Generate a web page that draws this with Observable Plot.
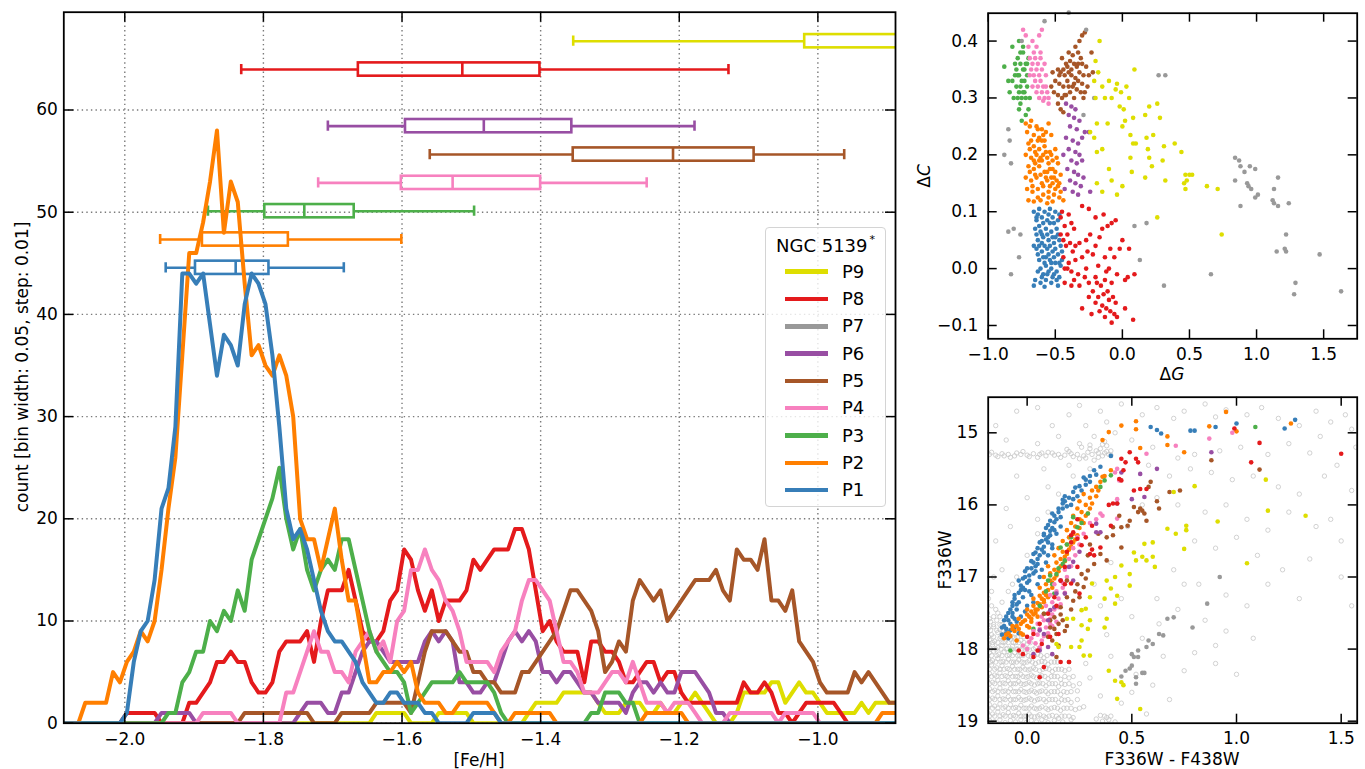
<!DOCTYPE html>
<html>
<head>
<meta charset="utf-8">
<script src="https://cdn.jsdelivr.net/npm/d3@7"></script>
<script src="https://cdn.jsdelivr.net/npm/@observablehq/plot@0.6"></script>
<style>
  body { margin: 0; background: #fff; }
  #fig { position: relative; width: 1365px; height: 769px; overflow: hidden; background: #fff;
         font-family: "DejaVu Sans", sans-serif; color: #000; }
  #fig svg { position: absolute; }
  .lbl { position: absolute; white-space: nowrap; font-size: 17px; line-height: 1; }
  #legend { position: absolute; left: 765px; top: 227px; width: 121px; height: 280px;
            box-sizing: border-box; border: 1.3px solid #d4d4d4; border-radius: 4px;
            background: rgba(255,255,255,0.8); font-size: 18px; }
  #legend .title { position: absolute; left: 0; width: 100%; top: 5px; text-align: center; white-space: nowrap; }
  #legend .title sup { font-size: 11px; vertical-align: 9px; margin-left: 2px; }
  #legend .swatch { position: absolute; left: 19px; width: 43px; height: 4.5px; }
  #legend .name { position: absolute; left: 76px; line-height: 1; }
</style>
</head>
<body>
<div id="fig"></div>
<script>
// ---------- populations ----------
const pops = ["P1", "P2", "P3", "P4", "P5", "P6", "P7", "P8", "P9"];
const popColors = ["#377eb8", "#ff7f00", "#4daf4a", "#f781bf", "#a65628", "#984ea3", "#999999", "#e41a1c", "#dede00"];

// ---------- [Fe/H] running histograms (bin width 0.05, step 0.01) ----------
const fehStart = -2.087;
const fehStep = 0.01;
const countsP1 = [
  0,0,0,0,0,0,0,0,0,1,
  6,9,10,14,21,23,29,44,44,43,
  44,39,34,38,37,35,41,44,43,41,
  36,29,21,18,19,17,14,11,9,8,
  8,7,6,4,3,2,2,3,3,2,
  2,2,1,1,0,0,0,0,0,1,
  1,1,1,0,0,0,0,0,0,0,
  0,0,0,0,0,0,0,0,0,0,
  0,0,0,0,0,0,0,0,0,0,
  0,0,0,0,0,0,0,0,0,0,
  0,0,0,0,0,0,0,0,0,0,
  0,0,0,0,0,0,0,0,0,0,
  0];
const countsP2 = [
  0,0,0,2,2,2,2,5,4,6,
  7,9,8,10,15,21,26,36,46,46,
  49,53,58,48,53,51,43,36,37,35,
  34,36,34,30,20,18,18,15,18,21,
  16,12,12,8,4,4,5,5,6,5,
  6,3,2,2,2,1,1,2,2,2,
  2,2,1,0,0,1,1,1,1,1,
  1,0,0,0,0,0,0,0,0,0,
  0,0,0,0,1,1,1,1,1,1,
  0,0,0,0,0,0,0,0,0,0,
  0,0,0,0,0,0,0,0,0,0,
  0,0,0,0,0,0,0,0,1,1,
  1];
const countsP3 = [
  0,0,0,0,0,0,0,0,0,0,
  0,0,0,0,0,1,1,4,5,7,
  7,10,9,11,10,13,11,16,18,20,
  22,25,20,17,19,15,13,15,16,15,
  18,18,15,12,9,7,6,5,5,4,
  1,2,3,4,4,4,4,5,4,4,
  4,4,3,1,0,0,0,0,0,0,
  0,0,0,0,0,0,1,1,3,3,
  3,2,2,0,0,0,0,0,0,0,
  0,0,0,0,0,0,0,0,0,0,
  0,0,0,0,0,0,0,0,0,0,
  0,0,0,0,0,0,0,0,0,0,
  0];
const countsP4 = [
  0,0,0,0,0,0,0,0,0,0,
  0,0,0,0,0,0,0,0,0,0,
  1,1,1,1,1,0,0,0,0,0,
  0,0,3,3,5,7,9,7,7,5,
  5,4,7,8,9,7,8,6,10,11,
  15,15,17,15,14,12,11,9,6,6,
  6,6,5,7,8,9,12,14,14,13,
  12,9,6,6,5,3,3,3,4,5,
  5,4,6,4,2,2,2,1,2,2,
  2,1,0,0,0,0,1,1,1,1,
  1,1,1,0,1,1,1,1,1,0,
  0,0,0,0,0,0,0,0,0,0,
  0];
const countsP5 = [
  0,0,0,0,0,0,0,0,0,0,
  0,0,0,0,0,0,0,0,0,0,
  0,0,0,0,0,0,1,1,1,1,
  1,1,1,1,1,1,0,0,0,0,
  1,1,1,1,1,2,2,2,2,2,
  1,4,7,9,9,9,8,7,7,5,
  5,4,4,3,3,3,5,5,6,7,
  8,9,11,13,13,12,11,9,5,6,
  8,7,12,14,13,12,13,10,11,12,
  13,14,14,14,15,13,12,17,16,16,
  15,18,12,12,11,13,8,7,6,4,
  3,3,3,3,5,4,5,4,3,2,
  2];
const countsP6 = [
  0,0,0,0,0,0,0,0,0,0,
  0,0,0,0,1,1,1,1,1,0,
  0,0,0,0,0,0,0,0,0,0,
  0,0,0,0,1,2,2,2,1,1,
  3,3,5,7,8,8,7,6,6,6,
  6,6,8,9,8,9,8,4,4,3,
  3,4,4,6,8,9,8,9,8,5,
  5,4,5,5,4,3,3,2,2,2,
  2,1,3,4,4,3,4,3,3,5,
  5,5,4,3,1,1,0,0,0,0,
  0,0,0,0,0,0,0,0,0,0,
  0,0,0,0,0,0,0,0,0,0,
  0];
const countsP8 = [
  0,0,0,0,0,0,0,0,0,1,
  1,1,1,1,0,0,0,0,2,2,
  3,4,6,6,7,6,6,4,3,3,
  4,7,8,8,8,9,6,10,13,13,
  13,15,12,9,8,8,9,12,13,17,
  16,13,11,13,10,12,12,12,13,16,
  15,16,17,17,17,19,19,17,13,9,
  10,8,7,7,7,4,8,8,7,7,
  6,4,4,5,6,6,4,5,5,3,
  2,2,2,2,2,2,2,2,4,3,
  3,4,3,1,1,0,1,2,2,2,
  2,2,1,0,0,0,0,0,0,0,
  0];
const countsP9 = [
  0,0,0,0,0,0,0,0,0,0,
  0,0,0,0,0,0,0,0,0,0,
  0,0,0,0,0,0,0,0,0,0,
  0,0,0,0,0,0,0,0,0,0,
  0,0,0,0,0,1,1,1,1,1,
  0,0,0,0,1,1,1,1,1,0,
  0,0,0,0,0,0,0,1,2,2,
  2,2,3,3,3,3,3,2,1,1,
  1,2,2,2,1,1,2,1,1,2,
  2,3,2,1,0,0,0,1,3,3,
  3,3,4,4,2,3,4,3,3,2,
  1,1,1,1,1,2,1,2,2,2,
  2];
const histCounts = { P1: countsP1, P2: countsP2, P3: countsP3, P4: countsP4, P5: countsP5, P6: countsP6, P8: countsP8, P9: countsP9 };

// ---------- [Fe/H] box plots ----------
const boxPops     = ["P1", "P2", "P3", "P4", "P5", "P6", "P8", "P9"];
const boxLevel    = [44.56, 47.33, 50.10, 52.87, 55.64, 58.42, 63.96, 66.73];
const whiskerLow  = [-1.941, -1.949, -1.880, -1.721, -1.560, -1.707, -1.832, -1.353];
const quartile1   = [-1.898, -1.888, -1.798, -1.601, -1.353, -1.595, -1.663, -1.019];
const medianFeH   = [-1.840, -1.833, -1.741, -1.527, -1.209, -1.482, -1.513, -0.860];
const quartile3   = [-1.792, -1.764, -1.669, -1.400, -1.092, -1.355, -1.401, -0.750];
const whiskerHigh = [-1.684, -1.601, -1.496, -1.247, -0.962, -1.178, -1.129, -0.550];

// ---------- chromosome map (ΔG, ΔC) ----------
const mapP1 = [[-0.66,0.10],[-0.62,0.105],[-0.58,0.10],[-0.54,0.105],[-0.50,0.10],[-0.64,0.085],[-0.60,0.09],[-0.56,0.085],[-0.52,0.09],[-0.48,0.085],
  [-0.65,0.07],[-0.61,0.065],[-0.57,0.07],[-0.53,0.065],[-0.49,0.07],[-0.63,0.05],[-0.59,0.055],[-0.55,0.05],[-0.51,0.045],[-0.47,0.05],
  [-0.64,0.035],[-0.60,0.03],[-0.56,0.035],[-0.52,0.03],[-0.48,0.025],[-0.62,0.015],[-0.58,0.01],[-0.54,0.015],[-0.50,0.01],[-0.46,0.005],
  [-0.63,-0.005],[-0.59,-0.01],[-0.55,-0.005],[-0.51,-0.01],[-0.47,-0.015],[-0.65,-0.02],[-0.61,-0.025],[-0.57,-0.02],[-0.53,-0.025],[-0.49,-0.02],
  [-0.58,-0.032],[-0.66,0.04],[-0.62,0.075],[-0.54,0.08],[-0.50,0.055],[-0.57,0.02],[-0.53,0.0],[-0.60,0.045],[-0.66,-0.03],[-0.45,0.03],
  [-0.63,0.095],[-0.59,0.08],[-0.55,0.095],[-0.51,0.08],[-0.47,0.095],[-0.64,0.06],[-0.60,0.06],[-0.56,0.06],[-0.52,0.055],[-0.48,0.06],
  [-0.62,0.04],[-0.58,0.04],[-0.54,0.04],[-0.50,0.035],[-0.46,0.04],[-0.61,0.0],[-0.57,0.005],[-0.53,0.01],[-0.49,-0.005],[-0.45,0.015],
  [-0.60,-0.015],[-0.56,-0.01],[-0.52,-0.015],[-0.48,-0.03],[-0.63,0.025],[-0.59,0.02],[-0.55,0.025],[-0.51,0.02],[-0.47,0.01],[-0.64,0.09]];
const mapP2 = [[-0.72,0.255],[-0.68,0.26],[-0.64,0.25],[-0.60,0.245],[-0.55,0.255],[-0.71,0.24],[-0.66,0.235],[-0.62,0.23],[-0.58,0.225],[-0.53,0.235],
  [-0.70,0.22],[-0.66,0.215],[-0.62,0.21],[-0.58,0.215],[-0.54,0.205],[-0.50,0.21],[-0.72,0.20],[-0.68,0.195],[-0.64,0.20],[-0.60,0.19],
  [-0.56,0.195],[-0.52,0.19],[-0.48,0.185],[-0.70,0.18],[-0.66,0.175],[-0.62,0.18],[-0.58,0.17],[-0.54,0.175],[-0.50,0.17],[-0.46,0.165],
  [-0.72,0.16],[-0.68,0.155],[-0.64,0.16],[-0.60,0.15],[-0.56,0.155],[-0.52,0.15],[-0.48,0.145],[-0.71,0.14],[-0.67,0.135],[-0.63,0.14],
  [-0.59,0.13],[-0.55,0.135],[-0.51,0.13],[-0.47,0.125],[-0.70,0.12],[-0.66,0.118],[-0.61,0.12],[-0.56,0.115],[-0.52,0.118],[-0.44,0.12],
  [-0.65,0.185],[-0.57,0.24],[-0.69,0.21],[-0.61,0.165],[-0.53,0.16],[-0.63,0.225],[-0.59,0.20],[-0.55,0.185],[-0.67,0.145],[-0.49,0.155],
  [-0.69,0.25],[-0.63,0.245],[-0.59,0.235],[-0.65,0.205],[-0.61,0.195],[-0.57,0.205],[-0.53,0.20],[-0.49,0.195],[-0.69,0.17],[-0.65,0.165],
  [-0.57,0.16],[-0.51,0.16],[-0.47,0.15],[-0.63,0.125],[-0.59,0.145],[-0.55,0.125],[-0.50,0.14],[-0.46,0.135],[-0.68,0.225],[-0.60,0.225],
  [-0.56,0.17],[-0.54,0.145],[-0.62,0.19],[-0.66,0.19],[-0.52,0.175]];
const mapP3 = [[-0.88,0.355],[-0.84,0.31],[-0.85,0.33],[-0.82,0.39],[-0.80,0.36],[-0.79,0.35],[-0.78,0.37],[-0.77,0.34],[-0.76,0.36],[-0.75,0.33],
  [-0.74,0.38],[-0.73,0.35],[-0.72,0.36],[-0.71,0.34],[-0.79,0.32],[-0.77,0.31],[-0.75,0.30],[-0.73,0.31],[-0.71,0.32],[-0.78,0.30],
  [-0.76,0.32],[-0.74,0.35],[-0.72,0.30],[-0.80,0.34],[-0.82,0.33],[-0.81,0.30],[-0.77,0.40],[-0.74,0.39],[-0.70,0.37],[-0.72,0.27],
  [-0.70,0.28],[-0.75,0.26],[-0.76,0.29],[-0.73,0.33],[-0.71,0.36],[-0.78,0.34],[-0.76,0.38],[-0.74,0.31],[-0.69,0.30],[-0.77,0.28]];
const mapP4 = [[-0.74,0.42],[-0.72,0.41],[-0.62,0.41],[-0.60,0.42],[-0.67,0.40],[-0.70,0.39],[-0.69,0.37],[-0.67,0.36],[-0.65,0.37],[-0.63,0.36],
  [-0.61,0.38],[-0.68,0.35],[-0.66,0.34],[-0.64,0.35],[-0.62,0.34],[-0.60,0.35],[-0.58,0.36],[-0.65,0.33],[-0.63,0.32],[-0.61,0.33],
  [-0.59,0.32],[-0.57,0.34],[-0.64,0.31],[-0.62,0.30],[-0.60,0.31],[-0.58,0.30],[-0.56,0.31],[-0.55,0.29],[-0.57,0.32],[-0.67,0.32],
  [-0.69,0.34],[-0.59,0.295],[-0.66,0.38],[-0.64,0.39],[-0.55,0.30],[-0.61,0.37]];
const mapP5 = [[-0.30,0.41],[-0.28,0.415],[-0.32,0.40],[-0.35,0.39],[-0.40,0.38],[-0.37,0.375],[-0.33,0.38],[-0.31,0.37],[-0.45,0.37],[-0.42,0.36],
  [-0.39,0.365],[-0.36,0.36],[-0.34,0.355],[-0.30,0.36],[-0.27,0.355],[-0.48,0.35],[-0.46,0.345],[-0.43,0.34],[-0.40,0.345],[-0.38,0.34],
  [-0.35,0.335],[-0.33,0.33],[-0.29,0.34],[-0.25,0.34],[-0.22,0.345],[-0.50,0.33],[-0.47,0.325],[-0.44,0.32],[-0.41,0.33],[-0.37,0.32],
  [-0.34,0.315],[-0.31,0.31],[-0.28,0.31],[-0.51,0.31],[-0.48,0.305],[-0.45,0.30],[-0.42,0.305],[-0.29,0.30],[-0.46,0.28],[-0.44,0.275],
  [-0.48,0.29],[-0.53,0.32],[-0.52,0.345],[-0.39,0.31],[-0.36,0.30],[-0.26,0.32],[-0.23,0.38],[-0.41,0.355],[-0.38,0.35],[-0.32,0.345],
  [-0.36,0.325],[-0.43,0.305],[-0.40,0.32],[-0.47,0.34],[-0.44,0.35],[-0.33,0.36],[-0.30,0.325]];
const mapP6 = [[-0.42,0.29],[-0.38,0.285],[-0.35,0.28],[-0.40,0.27],[-0.36,0.265],[-0.32,0.26],[-0.39,0.25],[-0.34,0.245],[-0.28,0.24],[-0.25,0.24],
  [-0.42,0.23],[-0.37,0.225],[-0.33,0.22],[-0.30,0.23],[-0.40,0.21],[-0.35,0.205],[-0.32,0.20],[-0.38,0.19],[-0.34,0.185],[-0.30,0.19],
  [-0.41,0.175],[-0.36,0.17],[-0.33,0.165],[-0.39,0.155],[-0.35,0.15],[-0.31,0.145],[-0.43,0.14],[-0.37,0.135],[-0.33,0.13],[-0.24,0.135],
  [-0.29,0.16],[-0.44,0.20]];
const mapP7 = [[0.84,0.195],[0.87,0.19],[0.88,0.18],[0.91,0.17],[0.84,0.155],[0.93,0.15],[0.95,0.18],[0.99,0.175],[0.94,0.145],[0.96,0.14],
  [0.99,0.125],[1.01,0.13],[0.88,0.11],[1.13,0.14],[1.12,0.12],[1.13,0.115],[1.16,0.11],[1.16,0.16],[1.24,0.115],[1.22,0.06],
  [1.21,0.035],[1.15,0.03],[1.22,0.03],[1.47,0.025],[1.29,-0.025],[1.28,-0.045],[1.63,-0.04],[0.27,0.34],[0.32,0.34],[-0.85,0.245],
  [-0.84,0.225],[-0.88,0.20],[-0.83,0.185],[-0.85,0.065],[-0.81,0.07],[-0.76,0.06],[-0.77,0.02],[-0.83,-0.01],[0.09,0.075],[0.18,0.08],
  [0.13,0.015],[0.66,-0.01],[0.31,-0.03],[-0.58,0.435],[-0.27,0.42],[-0.75,0.40],[-0.21,0.30],[-0.29,0.27],[-0.40,0.45]];
const mapP8 = [[-0.45,0.10],[-0.40,0.095],[-0.38,0.08],[-0.43,0.075],[-0.46,0.06],[-0.41,0.06],[-0.36,0.07],[-0.30,0.11],[-0.25,0.105],[-0.20,0.09],
  [-0.14,0.095],[-0.08,0.08],[-0.05,0.085],[-0.24,0.06],[-0.15,0.07],[-0.11,0.075],[-0.42,0.04],[-0.37,0.03],[-0.32,0.045],[-0.27,0.05],
  [-0.20,0.04],[-0.09,0.035],[0.0,0.05],[0.05,0.035],[-0.44,0.02],[-0.40,0.01],[-0.35,0.015],[-0.30,0.02],[-0.22,0.025],[-0.13,0.02],
  [-0.41,0.0],[-0.38,-0.005],[-0.33,-0.01],[-0.27,0.0],[-0.18,0.005],[-0.12,-0.005],[-0.04,-0.01],[0.04,-0.015],[0.09,-0.01],[-0.43,-0.025],
  [-0.38,-0.03],[-0.32,-0.03],[-0.25,-0.025],[-0.20,-0.015],[-0.16,-0.03],[-0.08,-0.025],[0.02,-0.02],[-0.22,-0.04],[-0.18,-0.05],[-0.14,-0.045],
  [-0.10,-0.055],[-0.20,-0.06],[-0.15,-0.065],[-0.12,-0.07],[-0.09,-0.075],[-0.06,-0.08],[-0.04,-0.085],[-0.08,-0.095],[-0.30,-0.07],[0.02,-0.07],
  [0.08,-0.09],[-0.23,-0.08],[-0.46,0.09],[-0.44,0.05],[-0.39,0.045],[-0.35,0.04],[-0.43,0.0],[-0.36,-0.02],[-0.28,-0.015],[-0.26,0.03],
  [-0.17,0.055],[-0.10,0.0],[-0.06,0.02],[-0.02,0.035],[-0.13,-0.02],[-0.19,-0.025],[-0.11,-0.04],[-0.07,-0.05],[-0.25,-0.05],[-0.17,-0.075],
  [-0.13,-0.085],[-0.05,-0.06]];
const mapP9 = [[-0.17,0.40],[-0.20,0.365],[-0.18,0.345],[-0.21,0.33],[-0.15,0.32],[-0.10,0.33],[-0.04,0.325],[-0.01,0.31],[0.03,0.32],[-0.13,0.30],
  [-0.20,0.30],[-0.08,0.30],[-0.05,0.315],[0.05,0.30],[0.01,0.28],[-0.02,0.285],[0.09,0.35],[-0.19,0.255],[-0.11,0.255],[0.0,0.25],
  [0.02,0.26],[0.08,0.265],[0.17,0.27],[0.20,0.285],[0.26,0.29],[0.28,0.265],[-0.24,0.24],[-0.21,0.23],[0.06,0.235],[0.10,0.22],
  [0.18,0.23],[0.23,0.235],[-0.15,0.21],[-0.19,0.205],[0.08,0.22],[0.19,0.21],[0.31,0.215],[0.39,0.22],[0.44,0.205],[0.06,0.195],
  [0.20,0.195],[0.30,0.19],[-0.10,0.175],[0.07,0.17],[0.22,0.18],[-0.08,0.155],[-0.19,0.15],[0.0,0.145],[0.17,0.16],[0.32,0.155],
  [0.47,0.165],[0.50,0.165],[0.52,0.165],[0.48,0.155],[0.46,0.15],[0.47,0.14],[0.63,0.145],[0.71,0.14],[-0.15,0.135],[-0.04,0.13],
  [0.26,0.09],[0.74,0.06]];
const chromosomeMap = { P1: mapP1, P2: mapP2, P3: mapP3, P4: mapP4, P5: mapP5, P6: mapP6, P7: mapP7, P8: mapP8, P9: mapP9 };

// ---------- colour-magnitude diagram (F336W - F438W, F336W) ----------
// all stars of the field, scattered individually
const cmdField = [
  [-0.175,17.62],[-0.145,17.60],[-0.12,17.66],[-0.185,17.71],[-0.16,17.69],[-0.13,17.73],[-0.10,17.76],
  [-0.19,17.79],[-0.17,17.80],[-0.14,17.77],[-0.115,17.82],[-0.09,17.80],[-0.06,17.84],[-0.035,17.79],
  [-0.18,17.87],[-0.155,17.89],[-0.13,17.85],[-0.105,17.90],[-0.08,17.86],[-0.055,17.91],[-0.03,17.88],[0.00,17.93],
  [-0.19,17.96],[-0.165,17.94],[-0.14,17.98],[-0.12,17.95],[-0.095,17.99],[-0.07,17.96],[-0.045,18.00],[-0.02,17.97],[0.01,18.01],[0.04,17.98],
  [-0.18,18.05],[-0.16,18.03],[-0.135,18.07],[-0.11,18.04],[-0.085,18.08],[-0.06,18.05],[-0.035,18.09],[-0.01,18.06],[0.02,18.10],[0.05,18.07],[0.08,18.12],
  [-0.185,18.14],[-0.165,18.16],[-0.14,18.13],[-0.115,18.17],[-0.09,18.14],[-0.065,18.18],[-0.04,18.15],[-0.015,18.19],[0.01,18.16],[0.04,18.20],[0.07,18.17],[0.10,18.21],[0.13,18.18],
  [-0.19,18.24],[-0.17,18.22],[-0.145,18.26],[-0.12,18.23],[-0.095,18.27],[-0.07,18.24],[-0.045,18.28],[-0.02,18.25],[0.005,18.29],[0.03,18.26],[0.06,18.30],[0.09,18.27],[0.12,18.31],[0.15,18.28],[0.18,18.30],
  [-0.18,18.34],[-0.155,18.36],[-0.13,18.33],[-0.105,18.37],[-0.08,18.34],[-0.055,18.38],[-0.03,18.35],[-0.005,18.39],[0.02,18.36],[0.045,18.40],[0.07,18.37],[0.10,18.41],[0.13,18.38],[0.16,18.42],[0.20,18.40],
  [-0.19,18.44],[-0.165,18.46],[-0.14,18.43],[-0.115,18.47],[-0.09,18.44],[-0.065,18.48],[-0.04,18.45],[-0.015,18.49],[0.01,18.46],[0.035,18.50],[0.06,18.47],[0.09,18.51],[0.12,18.48],[0.15,18.52],[0.18,18.49],[0.22,18.51],
  [-0.18,18.55],[-0.155,18.57],[-0.13,18.54],[-0.105,18.58],[-0.08,18.55],[-0.055,18.59],[-0.03,18.56],[-0.005,18.60],[0.02,18.57],[0.045,18.61],[0.07,18.58],[0.10,18.62],[0.13,18.59],[0.16,18.63],[0.19,18.60],[0.24,18.58],
  [-0.19,18.66],[-0.165,18.68],[-0.14,18.65],[-0.115,18.69],[-0.09,18.66],[-0.065,18.70],[-0.04,18.67],[-0.015,18.71],[0.01,18.68],[0.035,18.72],[0.06,18.69],[0.09,18.73],[0.12,18.70],[0.15,18.74],[0.18,18.71],[0.21,18.74],
  [-0.18,18.77],[-0.155,18.79],[-0.13,18.76],[-0.105,18.80],[-0.08,18.77],[-0.055,18.81],[-0.03,18.78],[-0.005,18.82],[0.02,18.79],[0.045,18.83],[0.07,18.80],[0.10,18.84],[0.13,18.81],[0.16,18.85],[0.19,18.82],[0.23,18.84],[0.27,18.80],
  [-0.19,18.88],[-0.165,18.90],[-0.14,18.87],[-0.115,18.91],[-0.09,18.88],[-0.065,18.92],[-0.04,18.89],[-0.015,18.93],[0.01,18.90],[0.035,18.94],[0.06,18.91],[0.09,18.95],[0.12,18.92],[0.15,18.96],[0.18,18.93],[0.22,18.95],[0.35,18.92],[0.38,18.95],
  [-0.18,18.99],[-0.155,19.01],[-0.13,18.98],[-0.105,19.02],[-0.08,18.99],[-0.055,19.01],[-0.03,18.98],[-0.005,19.02],[0.02,18.99],[0.045,19.01],[0.07,18.98],[0.10,19.02],[0.13,18.99],[0.17,19.01],[0.21,18.98],[0.36,19.0],[0.39,18.98],[0.42,19.01],[0.33,18.97],
  [-0.15,17.45],[-0.12,17.35],[-0.09,17.2],[-0.05,17.0],[0.0,16.7],[0.05,16.4],[0.1,16.1],[0.15,15.85],[-0.13,17.55],[-0.07,17.1],
  [-0.19,17.50],[-0.17,17.40],[-0.185,17.30],[-0.16,17.55],[-0.18,17.58],[-0.14,17.50],
  [-0.18,15.30],[-0.15,15.31],[-0.12,15.29],[-0.09,15.30],[-0.06,15.32],[-0.03,15.30],[0.00,15.31],[0.03,15.29],[0.06,15.30],[0.09,15.32],
  [0.12,15.28],[0.15,15.30],[0.18,15.31],[0.21,15.29],[0.24,15.30],[0.27,15.32],[0.29,15.27],[0.31,15.30],[0.33,15.25],[0.35,15.22],
  [0.37,15.28],[0.38,15.18],[0.40,15.25],[0.39,15.30],[0.34,15.34],[0.22,15.33],[0.10,15.27],[-0.02,15.26],[-0.14,15.33],[0.05,15.34],
  [0.26,15.20],[0.28,15.35],[0.30,15.22],[0.32,15.38],[0.34,15.28],[0.36,15.32],[0.36,15.16],[0.38,15.26],[0.40,15.31],[0.30,15.17],
  [0.25,15.36],[0.20,15.26],[0.16,15.34],[0.13,15.31],[0.07,15.28],[0.01,15.33],[-0.05,15.28],[-0.11,15.32],[-0.17,15.27],[-0.08,15.34],[0.19,15.23],
  [-0.05,14.7],[0.05,14.65],[0.2,14.75],[0.28,14.9],[0.15,15.05],[-0.1,15.1],[0.05,15.15],[-0.15,14.9],[0.35,14.7],[0.45,14.6],
  [0.55,14.75],[0.62,14.65],[0.7,14.8],[0.75,14.7],[0.85,14.6],[0.9,14.78],[0.95,14.68],[1.05,14.75],[1.12,14.65],[1.2,14.8],
  [1.3,14.9],[1.38,14.7],[1.45,14.85],[1.52,14.75],[1.55,14.95],[0.42,15.0],[0.5,15.1],[0.6,15.2],[0.72,15.35],[0.8,15.3],
  [0.92,15.25],[1.02,15.2],[1.15,15.3],[1.25,15.15],[1.35,15.28],[1.48,15.45],[0.58,15.45],[0.68,15.6],[0.78,15.5],[0.88,15.55],
  [0.98,15.65],[1.08,15.6],[1.2,15.75],[1.3,15.85],[1.42,15.6],[1.55,15.8],[0.62,15.9],[0.72,16.0],[0.85,16.1],[0.95,16.0],
  [1.05,16.2],[1.15,16.35],[1.25,16.1],[1.38,16.3],[1.5,16.5],[0.8,16.5],[0.9,16.6],[1.0,16.45],[1.1,16.7],[1.22,16.9],
  [1.35,16.75],[1.5,17.0],[0.7,16.9],[0.82,17.1],[0.95,17.25],[1.05,17.4],[1.15,17.1],[1.3,17.3],[0.62,17.3],[0.72,17.45],
  [0.85,17.6],[0.95,17.75],[1.08,17.85],[0.5,17.55],[0.55,17.85],[0.65,18.1],[0.75,18.3],[0.6,18.5],[0.5,18.6],[0.45,18.75],
  [0.35,18.65],[0.3,18.4],[0.28,18.2],[0.4,18.1],[0.38,17.8],[0.45,17.3],[0.35,17.4],[0.32,17.1],[0.4,16.8],[0.48,16.3],
  [0.55,16.0],[0.3,15.5],[0.22,15.6],[-0.05,15.6],[-0.1,16.05],[-0.15,16.5],[-0.12,16.9],[-0.08,16.3],[0.0,15.9],[0.1,15.75],
  [0.05,16.2],[-0.17,17.2],[-0.16,17.0],[0.08,15.5],[0.2,15.45],[0.25,15.15],[0.32,15.05],[0.37,15.12],[0.8,18.05],[0.9,18.2],
  [1.0,18.35],[0.68,18.7],[0.57,18.9],[0.52,18.35],[0.63,17.65],[0.9,17.95],[0.75,17.1],[1.55,17.4],[1.45,16.2],[1.57,15.2],
  [1.4,15.05],[0.12,14.9],[0.25,14.62],[0.38,14.85]];
// further field stars in the crowded turn-off region, grouped by magnitude
const fieldRows = [
  [17.66, [-0.19, -0.16, -0.13]],
  [17.74, [-0.175, -0.145, -0.115, -0.085]],
  [17.83, [-0.185, -0.16, -0.125, -0.095, -0.07, -0.045, -0.015]],
  [17.91, [-0.19, -0.165, -0.14, -0.115, -0.09, -0.065, -0.04, -0.015, 0.015]],
  [18.00, [-0.175, -0.15, -0.125, -0.10, -0.075, -0.05, -0.025, 0.00, 0.03, 0.06]],
  [18.09, [-0.19, -0.17, -0.145, -0.12, -0.095, -0.07, -0.045, -0.02, 0.005, 0.035, 0.065, 0.095]],
  [18.18, [-0.175, -0.15, -0.125, -0.10, -0.075, -0.05, -0.025, 0.0, 0.025, 0.055, 0.085, 0.115, 0.145]],
  [18.28, [-0.18, -0.155, -0.13, -0.11, -0.085, -0.06, -0.035, -0.01, 0.015, 0.04, 0.075, 0.105, 0.135, 0.165, 0.2]],
  [18.38, [-0.19, -0.17, -0.145, -0.12, -0.095, -0.07, -0.045, -0.02, 0.005, 0.03, 0.06, 0.085, 0.115, 0.145, 0.18, 0.22]],
  [18.48, [-0.18, -0.155, -0.13, -0.105, -0.08, -0.055, -0.03, -0.005, 0.02, 0.05, 0.075, 0.105, 0.135, 0.165, 0.2, 0.25]],
  [18.59, [-0.19, -0.165, -0.14, -0.115, -0.09, -0.065, -0.04, -0.015, 0.01, 0.035, 0.06, 0.09, 0.115, 0.145, 0.175, 0.21]],
  [18.70, [-0.18, -0.155, -0.13, -0.105, -0.08, -0.055, -0.03, -0.005, 0.02, 0.05, 0.08, 0.105, 0.135, 0.165, 0.195, 0.24]],
  [18.82, [-0.19, -0.165, -0.14, -0.115, -0.09, -0.065, -0.04, -0.015, 0.01, 0.035, 0.06, 0.09, 0.115, 0.145, 0.175, 0.21, 0.25]],
  [18.93, [-0.18, -0.155, -0.13, -0.105, -0.08, -0.055, -0.03, -0.005, 0.02, 0.05, 0.08, 0.105, 0.14, 0.165, 0.2, 0.37, 0.40]]
];
const cmdP1 = [[-0.12,17.80],[-0.10,17.72],[-0.08,17.65],[-0.11,17.60],[-0.07,17.55],[-0.09,17.50],[-0.05,17.45],[-0.07,17.40],[-0.04,17.35],[-0.06,17.30],
  [-0.02,17.28],[-0.04,17.22],[-0.01,17.18],[-0.03,17.12],[0.00,17.08],[-0.02,17.02],[0.01,16.98],[0.03,16.95],[-0.01,16.92],[0.02,16.88],
  [0.04,16.85],[0.03,16.80],[0.05,16.75],[0.06,16.70],[0.04,16.66],[0.07,16.62],[0.08,16.58],[0.06,16.52],[0.09,16.48],[0.10,16.45],
  [0.08,16.40],[0.11,16.36],[0.12,16.32],[0.10,16.28],[0.13,16.24],[0.14,16.20],[0.16,16.17],[0.12,16.12],[0.15,16.10],[0.17,16.05],
  [0.19,16.02],[0.21,16.00],[0.18,15.95],[0.22,15.92],[0.24,15.88],[0.26,15.80],[0.23,15.76],[0.28,15.72],[0.30,15.68],[0.27,15.62],
  [0.33,15.58],[0.35,15.47],[0.40,15.32],[-0.06,17.70],[-0.03,17.55],[-0.05,17.62],[0.00,17.40],[0.02,17.25],[-0.09,17.85],[-0.04,17.78],
  [0.05,17.10],[0.07,16.90],[0.10,16.70],[0.12,16.55],[0.14,16.40],[-0.01,17.48],[0.03,17.35],[0.01,17.20],[0.06,17.00],[0.09,16.80],
  [0.12,16.60],[0.16,16.30],[0.59,14.92],[0.62,14.96],[0.64,15.01],[0.78,14.97],[0.80,14.97],[0.90,14.92],[1.00,14.87],[1.23,14.94],
  [1.28,14.82],[0.18,15.88],[0.17,15.93],
  [-0.10,17.78],[-0.08,17.74],[-0.11,17.68],[-0.09,17.60],[-0.06,17.58],[-0.08,17.45],[-0.05,17.38],[-0.06,17.25],[-0.03,17.18],[-0.04,17.05],
  [-0.01,17.00],[0.00,16.88],[0.02,16.78],[0.03,16.68],[0.05,16.60],[0.07,16.50],[0.08,16.42],[0.09,16.32],[0.11,16.22],[0.13,16.15],
  [0.15,16.05],[0.17,15.98],[0.20,15.90],[0.22,15.82],[0.25,15.74],[0.28,15.65],[0.30,15.60],[0.32,15.52],[-0.07,17.35],[-0.02,17.15],
  [0.01,17.05],[0.04,16.92],[0.05,16.82],[0.08,16.66],[0.10,16.52],[0.11,16.42],[0.13,16.35],[-0.12,17.70],[-0.10,17.55],[-0.07,17.50]];
const cmdP2 = [[-0.11,17.85],[-0.09,17.78],[-0.06,17.75],[-0.04,17.72],[-0.07,17.68],[-0.03,17.65],[-0.01,17.60],[-0.04,17.58],[0.00,17.52],[0.02,17.48],
  [0.00,17.45],[0.03,17.40],[0.05,17.36],[0.03,17.30],[0.06,17.26],[0.08,17.22],[0.06,17.15],[0.09,17.10],[0.11,17.05],[0.08,17.00],
  [0.11,16.95],[0.13,16.90],[0.10,16.85],[0.14,16.80],[0.16,16.75],[0.13,16.70],[0.17,16.65],[0.15,16.60],[0.19,16.55],[0.17,16.50],
  [0.20,16.45],[0.22,16.40],[0.19,16.35],[0.23,16.30],[0.21,16.25],[0.25,16.20],[0.22,16.15],[0.26,16.10],[0.24,16.05],[0.28,16.00],
  [0.25,15.95],[0.30,15.90],[0.27,15.85],[0.31,15.80],[0.33,15.75],[0.35,15.68],[0.37,15.60],[0.40,15.52],[0.36,15.61],[-0.02,17.80],
  [0.01,17.70],[0.05,17.55],[0.07,17.42],[0.10,17.28],[0.12,17.15],[0.02,17.62],[0.04,17.50],[0.08,17.35],[0.14,16.98],[0.18,16.72],
  [0.20,16.62],[0.23,16.48],[0.27,16.25],[0.29,16.12],[-0.08,17.82],[-0.05,17.88],[0.36,15.10],[0.39,14.99],[0.45,14.90],[0.52,14.84],
  [0.52,14.95],[0.54,15.21],[0.67,15.05],[0.67,15.17],[0.75,15.27],[0.87,14.91],[0.95,14.71],[1.00,14.98],[1.26,14.87],
  [-0.10,17.80],[-0.07,17.72],[-0.05,17.68],[-0.02,17.62],[0.01,17.55],[0.03,17.52],[0.04,17.45],[0.06,17.38],[0.07,17.30],[0.09,17.25],
  [0.10,17.18],[0.12,17.08],[0.13,17.02],[0.15,16.92],[0.16,16.85],[0.18,16.78],[0.19,16.68],[0.21,16.58],[0.22,16.52],[0.24,16.42],
  [0.25,16.32],[0.26,16.22],[0.28,16.15],[0.30,16.05],[0.31,15.98],[0.33,15.88],[0.34,15.80],[-0.03,17.78],[0.00,17.68],[0.02,17.58],
  [0.05,17.45],[0.08,17.32]];
const cmdP3 = [[-0.08,18.02],[0.03,17.72],[0.08,17.51],[0.13,17.23],[0.10,17.05],[0.14,16.96],[0.18,16.77],[0.16,16.59],[0.21,16.45],[0.24,16.31],
  [0.29,16.12],[0.22,16.17],[0.35,15.75],[0.40,15.59],[0.37,15.66],[1.09,14.92],[0.12,17.10],[0.15,16.88],[0.06,17.40],[0.19,16.55],
  [0.26,16.25],[0.11,16.98],[0.17,16.82],[0.09,17.20]];
const cmdP4 = [[-0.02,17.95],[0.01,17.90],[0.04,17.92],[0.02,17.85],[0.05,17.80],[0.08,17.82],[0.03,17.75],[0.06,17.72],[0.09,17.70],[0.05,17.65],
  [0.08,17.60],[0.11,17.58],[0.07,17.55],[0.10,17.50],[0.13,17.45],[0.09,17.40],[0.12,17.35],[0.15,17.30],[0.11,17.25],[0.14,17.20],
  [0.17,17.15],[0.13,17.10],[0.16,17.05],[0.19,17.00],[0.18,16.90],[0.21,16.85],[0.20,16.75],[0.23,16.70],[0.22,16.60],[0.25,16.55],
  [0.24,16.45],[0.27,16.40],[0.30,16.25],[0.33,16.20],[0.36,16.15],[0.35,16.12],[0.43,16.19],[0.43,15.92],[0.44,15.66],[0.43,15.50],
  [0.42,15.55],[0.57,15.29],[0.71,15.18],[0.87,15.08],[0.98,15.00],[0.00,18.00],[0.06,17.98],[0.10,17.78],[0.14,17.62],[0.12,17.68],
  [0.16,17.38],[0.07,17.88],[0.11,17.65],[0.12,17.52],[0.15,17.42],[0.18,17.22],[0.17,17.08]];
const cmdP5 = [[0.88,15.38],[1.11,15.51],[0.59,15.68],[0.58,15.75],[0.73,15.80],[0.68,15.82],[0.63,16.05],[0.54,16.05],[0.53,16.10],[0.56,16.12],
  [0.57,16.22],[0.48,16.29],[0.41,16.42],[0.38,16.45],[0.45,16.59],[0.35,16.68],[0.32,16.82],[0.29,16.70],[0.26,16.96],[0.27,17.14],
  [0.25,17.28],[0.22,17.33],[0.19,17.28],[0.16,17.42],[0.13,17.56],[0.11,17.70],[0.14,17.79],[0.10,17.83],[0.15,17.95],[0.14,18.11],
  [0.20,18.18],[0.11,17.60],[0.08,17.51],[0.17,17.60],[0.19,17.05],[0.29,16.91],[0.38,16.77],[0.51,16.03],[0.55,16.08],[0.49,16.22],
  [0.45,16.31],[0.41,16.31],[0.15,17.65],[0.18,17.75],[0.12,17.88],[0.24,17.10],[0.30,16.55],[0.34,16.40],[0.44,16.15],[0.62,15.95],
  [0.16,17.52],[0.19,17.68],[0.13,17.72],[0.21,17.45],[0.23,17.20],[0.28,17.02]];
const cmdP6 = [[0.45,15.55],[0.54,15.57],[0.62,15.50],[0.50,15.92],[0.56,15.89],[0.43,15.98],[0.33,16.26],[0.33,16.38],[0.35,16.38],[0.25,16.65],
  [0.22,16.79],[0.20,16.86],[0.16,17.05],[0.14,17.23],[0.11,17.46],[0.10,17.60],[0.06,17.74],[0.08,17.79],[0.06,18.02],[0.10,17.97],
  [0.12,18.07],[0.03,18.07],[0.88,15.27],[0.18,17.23],[0.13,17.42],[0.22,17.05]];
const cmdP7 = [[0.92,17.0],[0.86,17.37],[0.79,17.70],[0.70,17.56],[0.67,17.58],[0.63,17.79],[0.65,17.81],[0.58,17.88],[0.60,17.93],[0.57,17.97],
  [0.53,18.02],[0.50,18.07],[0.51,18.11],[0.53,18.11],[0.49,18.27],[0.47,18.30],[0.50,18.23],[0.55,18.33],[0.56,18.33],[0.52,18.39],
  [0.45,18.38],[0.52,18.48]];
const cmdP8 = [[-0.04,18.02],[-0.02,18.07],[0.03,18.11],[0.08,18.25],[0.06,18.39],[0.16,18.18],[0.20,18.18],[0.24,16.86],[0.26,16.56],[0.30,16.68],
  [0.31,16.29],[0.32,16.70],[0.35,16.59],[0.22,16.38],[0.21,16.52],[0.19,16.65],[0.18,16.86],[0.16,17.05],[0.21,17.09],[0.25,17.23],
  [0.13,17.28],[0.10,17.51],[0.06,17.65],[0.03,17.79],[0.00,17.83],[0.07,17.93],[0.11,17.83],[0.15,17.79],[0.05,18.02],[0.39,16.0],
  [0.43,15.98],[0.44,15.64],[0.46,15.52],[0.47,15.41],[0.49,15.27],[0.52,15.36],[0.53,15.41],[0.54,15.78],[0.51,15.80],[0.57,15.78],
  [0.45,15.36],[0.99,14.94],[1.07,15.41],[1.11,15.14],[1.50,15.29],[0.45,15.66],[0.41,15.98],[0.40,16.29],[0.21,16.42],[0.24,16.47],
  [0.24,16.20],[0.28,16.45],[0.31,16.62],[0.14,17.40],[0.18,17.10]];
const cmdP9 = [[0.70,15.82],[0.80,15.74],[1.14,15.65],[1.15,16.08],[1.33,16.15],[0.91,16.23],[0.76,16.29],[0.76,16.35],[0.71,16.40],[0.67,16.33],
  [0.60,16.52],[0.56,16.54],[0.51,16.66],[0.55,16.72],[0.57,16.77],[0.60,16.72],[0.52,16.77],[0.45,16.84],[0.61,16.86],[0.75,16.61],
  [1.05,16.81],[0.49,16.96],[0.49,17.12],[0.42,17.0],[0.38,17.05],[0.31,17.09],[0.40,17.16],[0.43,17.26],[0.37,17.30],[0.30,17.28],
  [0.42,17.37],[0.28,17.44],[0.26,17.46],[0.22,17.58],[0.26,17.67],[0.29,17.72],[0.38,17.58],[0.37,17.70],[0.30,17.60],[0.15,17.97],
  [0.21,17.97],[0.25,17.97],[0.26,17.88],[0.27,18.09],[0.30,18.09],[0.19,17.58],[0.39,18.30],[0.42,18.44],[0.45,18.46],[0.46,18.50],
  [0.43,18.69],[0.54,18.83],[0.14,17.93]];
const cmd = { P1: cmdP1, P2: cmdP2, P3: cmdP3, P4: cmdP4, P5: cmdP5, P6: cmdP6, P7: cmdP7, P8: cmdP8, P9: cmdP9 };

// ---------- tick values ----------
const fehTicks = [-2.0, -1.8, -1.6, -1.4, -1.2, -1.0];
const countTicks = [0, 10, 20, 30, 40, 50, 60];
const dgTicks = [-1.0, -0.5, 0.0, 0.5, 1.0, 1.5];
const dcTicks = [-0.1, 0.0, 0.1, 0.2, 0.3, 0.4];
const colTicks = [0.0, 0.5, 1.0, 1.5];
const magTicks = [15, 16, 17, 18, 19];

// ---------- drawing helpers ----------
const fig = document.getElementById("fig");
const colorOf = p => popColors[pops.indexOf(p)];
const fmt1 = d3.format(".1f");
const fmt0 = d3.format("d");
const baseStyle = { fontFamily: "DejaVu Sans, sans-serif", fontSize: "17px", color: "#000", background: "transparent", overflow: "visible" };

// inward ticks on all four sides of the frame
function inwardTicks(xt, yt, innerW, innerH, len) {
  const o = { stroke: "#000", strokeWidth: 1.5 };
  return [
    Plot.tickX(xt, { x: d => d, insetTop: innerH - len, ...o }),
    Plot.tickX(xt, { x: d => d, insetBottom: innerH - len, ...o }),
    Plot.tickY(yt, { y: d => d, insetRight: innerW - len, ...o }),
    Plot.tickY(yt, { y: d => d, insetLeft: innerW - len, ...o })
  ];
}
function put(svg, left, top) {
  svg.style.left = left + "px";
  svg.style.top = top + "px";
  fig.appendChild(svg);
}
function label(html, x, y, rotate) {
  const d = document.createElement("div");
  d.className = "lbl";
  d.innerHTML = html;
  d.style.left = x + "px";
  d.style.top = y + "px";
  d.style.transform = "translate(-50%,-50%)" + (rotate ? " rotate(-90deg)" : "");
  fig.appendChild(d);
}
const axisText = { fontSize: 17, fill: "#000" };

// ---------- left panel: [Fe/H] distributions ----------
const histRows = [];
for (const p of ["P9", "P8", "P6", "P5", "P4", "P3", "P2", "P1"]) {
  histCounts[p].forEach((c, i) => histRows.push({ pop: p, feh: fehStart + i * fehStep, count: c }));
}
const boxRows = boxPops.map((p, i) => ({
  pop: p, color: colorOf(p), level: boxLevel[i],
  lo: whiskerLow[i], q1: quartile1[i], med: medianFeH[i], q3: quartile3[i], hi: whiskerHigh[i]
}));
const boxHalf = 0.65, capHalf = 0.5;

const L = { w: 900, h: 769, ml: 63.3, mr: 5, mt: 11.7, mb: 46.3 };
const left = Plot.plot({
  width: L.w, height: L.h,
  marginLeft: L.ml, marginRight: L.mr, marginTop: L.mt, marginBottom: L.mb,
  style: baseStyle,
  x: { domain: [-2.088, -0.888], label: null },
  y: { domain: [0, 69.57], label: null },
  color: { type: "identity" },
  marks: [
    Plot.gridX(fehTicks, { stroke: "#7a7a7a", strokeOpacity: 1, strokeWidth: 1.4, strokeDasharray: "1.4,3.2" }),
    Plot.gridY(countTicks, { stroke: "#7a7a7a", strokeOpacity: 1, strokeWidth: 1.4, strokeDasharray: "1.4,3.2" }),
    Plot.ruleY(boxRows, { y: "level", x1: "lo", x2: "q1", stroke: "color", strokeWidth: 2.6, clip: true }),
    Plot.ruleY(boxRows, { y: "level", x1: "q3", x2: "hi", stroke: "color", strokeWidth: 2.6, clip: true }),
    Plot.ruleX(boxRows, { x: "lo", y1: d => d.level - capHalf, y2: d => d.level + capHalf, stroke: "color", strokeWidth: 2.6, clip: true }),
    Plot.ruleX(boxRows, { x: "hi", y1: d => d.level - capHalf, y2: d => d.level + capHalf, stroke: "color", strokeWidth: 2.6, clip: true }),
    Plot.rect(boxRows, { x1: "q1", x2: "q3", y1: d => d.level - boxHalf, y2: d => d.level + boxHalf, stroke: "color", fill: "none", strokeWidth: 2.6, clip: true }),
    Plot.ruleX(boxRows, { x: "med", y1: d => d.level - boxHalf, y2: d => d.level + boxHalf, stroke: "color", strokeWidth: 2.6, clip: true }),
    Plot.line(histRows, { x: "feh", y: "count", z: "pop", stroke: d => colorOf(d.pop), strokeWidth: 4, strokeLinejoin: "round", clip: true }),
    ...inwardTicks(fehTicks, countTicks, L.w - L.ml - L.mr, L.h - L.mt - L.mb, 10),
    Plot.frame({ stroke: "#000", strokeWidth: 1.8 }),
    Plot.axisX(fehTicks, { tickSize: 0, tickPadding: 10, tickFormat: fmt1, label: null, ...axisText }),
    Plot.axisY(countTicks, { tickSize: 0, tickPadding: 6, tickFormat: fmt0, label: null, ...axisText })
  ]
});
put(left, 0, 0);

// ---------- top right: chromosome map ----------
const T = { w: 465, h: 380, ml: 87.7, mr: 8.3, mt: 12.7, mb: 41.7 };
const topRight = Plot.plot({
  width: T.w, height: T.h,
  marginLeft: T.ml, marginRight: T.mr, marginTop: T.mt, marginBottom: T.mb,
  style: baseStyle,
  x: { domain: [-1.0, 1.75], label: null },
  y: { domain: [-0.1234, 0.449], label: null },
  marks: [
    ...pops.map(p => Plot.dot(chromosomeMap[p], { x: d => d[0], y: d => d[1], r: 2.3, fill: colorOf(p), stroke: null })),
    ...inwardTicks(dgTicks, dcTicks, T.w - T.ml - T.mr, T.h - T.mt - T.mb, 9),
    Plot.frame({ stroke: "#000", strokeWidth: 1.8 }),
    Plot.axisX(dgTicks, { tickSize: 0, tickPadding: 9, tickFormat: fmt1, label: null, ...axisText }),
    Plot.axisY(dcTicks, { tickSize: 0, tickPadding: 10, tickFormat: fmt1, label: null, ...axisText })
  ]
});
put(topRight, 900, 0);

// ---------- bottom right: colour-magnitude diagram ----------
const fieldAll = cmdField.concat(fieldRows.flatMap(([mag, cols]) => cols.map(c => [c, mag])));
const B = { w: 465, h: 389, ml: 87.7, mr: 8.3, mt: 16.7, mb: 46.3 };
const bottomRight = Plot.plot({
  width: B.w, height: B.h,
  marginLeft: B.ml, marginRight: B.mr, marginTop: B.mt, marginBottom: B.mb,
  style: baseStyle,
  x: { domain: [-0.186, 1.5765], label: null },
  y: { domain: [14.506, 19.028], reverse: true, label: null },
  marks: [
    Plot.dot(fieldAll, { x: d => d[0], y: d => d[1], r: 2.2, fill: "none", stroke: "#c6c6c6", strokeWidth: 0.8, clip: true }),
    ...pops.map(p => Plot.dot(cmd[p], { x: d => d[0], y: d => d[1], r: 2.3, fill: colorOf(p), stroke: null, clip: true })),
    ...inwardTicks(colTicks, magTicks, B.w - B.ml - B.mr, B.h - B.mt - B.mb, 9),
    Plot.frame({ stroke: "#000", strokeWidth: 1.8 }),
    Plot.axisX(colTicks, { tickSize: 0, tickPadding: 9, tickFormat: fmt1, label: null, ...axisText }),
    Plot.axisY(magTicks, { tickSize: 0, tickPadding: 10, tickFormat: fmt0, label: null, ...axisText })
  ]
});
put(bottomRight, 900, 380);

// ---------- axis titles ----------
label("count [bin width: 0.05, step: 0.01]", 22, 367, true);
label("[Fe/H]", 479, 760, false);
label("&Delta;<i>C</i>", 924, 176, true);
label("&Delta;<i>G</i>", 1172, 374, false);
label("F336W", 945, 560, true);
label("F336W - F438W", 1172, 759, false);

// ---------- legend ----------
const legend = document.createElement("div");
legend.id = "legend";
const title = document.createElement("div");
title.className = "title";
title.innerHTML = "NGC 5139<sup>*</sup>";
legend.appendChild(title);
["P9", "P8", "P7", "P6", "P5", "P4", "P3", "P2", "P1"].forEach((p, k) => {
  const cy = 43.7 + k * 27.3;
  const sw = document.createElement("div");
  sw.className = "swatch";
  sw.style.top = (cy - 2.25) + "px";
  sw.style.background = colorOf(p);
  legend.appendChild(sw);
  const nm = document.createElement("div");
  nm.className = "name";
  nm.style.top = (cy - 9) + "px";
  nm.textContent = p;
  legend.appendChild(nm);
});
fig.appendChild(legend);
</script>
</body>
</html>
